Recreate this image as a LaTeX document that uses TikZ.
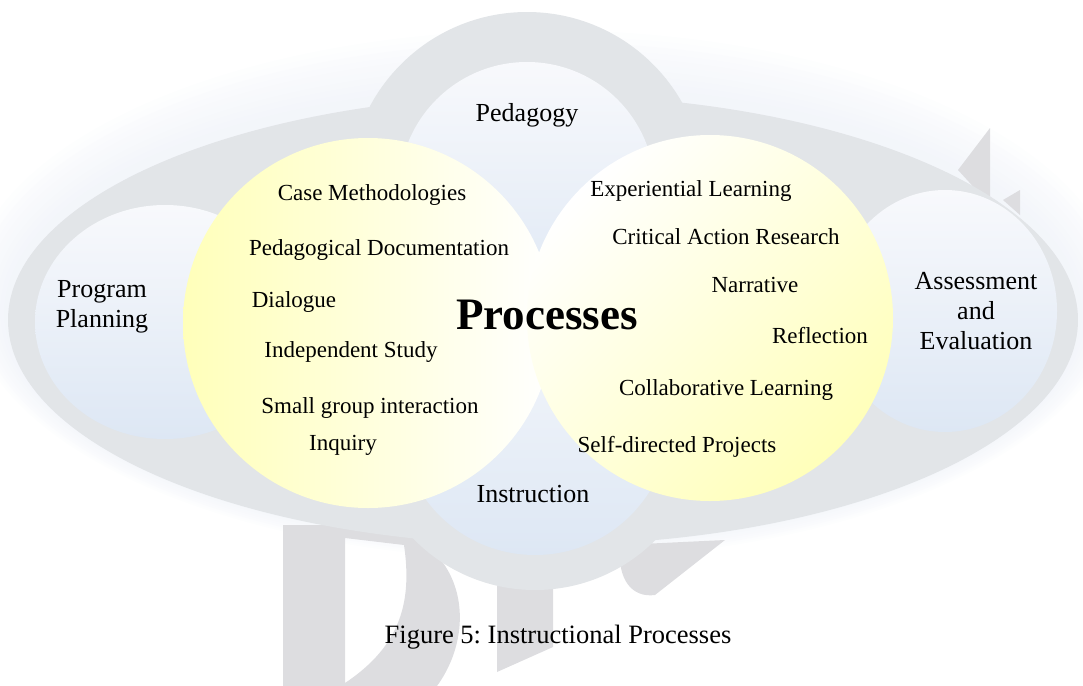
\documentclass[tikz,border=0pt]{standalone}
\usepackage{fontspec}
\setmainfont{Liberation Serif}
\usetikzlibrary{positioning}
\frenchspacing

\definecolor{bandgrey}{RGB}{226,229,232}
\definecolor{bandbeige}{RGB}{238,236,226}
\definecolor{ringtop}{RGB}{248,249,252}
\definecolor{ringbot}{RGB}{221,231,244}
\definecolor{procyellow}{RGB}{255,255,186}
\definecolor{wmark}{RGB}{221,221,224}
\definecolor{glow}{RGB}{232,237,246}

\tikzset{
  item/.style={font=\fontsize{23}{27}\selectfont, inner sep=0pt},
  area/.style={font=\fontsize{26}{30}\selectfont, align=center, inner sep=0pt},
  ring/.style={top color=ringtop, bottom color=ringbot},
}

\begin{document}
\begin{tikzpicture}[x=1pt,y=-1pt]
\useasboundingbox (0,0) rectangle (1083,685);

% soft glow round the band
\foreach \d in {4,8,...,40}
  \fill[glow,opacity=0.07] (543,{315-\d/2}) ellipse ({535pt+\d pt} and {225pt+\d pt});

% watermark letters behind the figure
\fill[wmark] (283,525) rectangle (345,690);
\fill[wmark,even odd rule] (345,525) -- (400,530) .. controls (475,560) and (475,650) .. (425,700) -- (345,700) -- cycle
  (345,538) -- (404,545) .. controls (412,600) and (402,645) .. (345,683) -- cycle;
\fill[wmark] (497,535) -- (553,535) -- (553,647) -- (497,672) -- cycle;
\fill[wmark] (620,545) .. controls (617,580) and (632,598) .. (655,595) -- (725,540) -- cycle;
\fill[wmark] (958,170) -- (990,128) -- (990,205) -- cycle;
\fill[wmark] (1003,200) -- (1020,190) -- (1020,215) -- cycle;

% grey band
\shade[left color=bandgrey, middle color=bandbeige, right color=bandgrey]
  (543,320) ellipse (535pt and 225pt)
  (527,190) circle (178pt)
  (535,420) circle (170pt);

% the four light circles
\shade[ring] (527,190) circle (128pt);
\shade[ring] (535,420) circle (135pt);
\shade[ring] (165,322) ellipse (130pt and 117pt);
\shade[ring] (945,311) ellipse (112pt and 121pt);

% the two process circles
\shade[left color=procyellow, right color=white] (368,323) circle (185pt);
\shade[top color=white, bottom color=procyellow, shading angle=45] (710,318) circle (183pt);

% labels of the outer circles
\node[area] (pedagogy) at (527,115) {Pedagogy};
\node[area] (planning) at (102,307) {Program\\Planning};
\node[area] (assess) at (976,311) {Assessment\\and\\Evaluation};
\node[area] (instruction) at (533,494) {Instruction};

\node[font=\fontsize{45}{50}\bfseries\selectfont, inner sep=0pt] (processes) at (547,315) {Processes};

% left circle
\node[item] (case) at (372,195) {Case Methodologies};
\node[item] (doc) at (379,250) {Pedagogical Documentation};
\node[item] (dialogue) at (294,302) {Dialogue};
\node[item] (indep) at (351,352) {Independent Study};
\node[item] (small) at (370,408) {Small group interaction};
\node[item] (inquiry) at (343,445) {Inquiry};

% right circle
\node[item] (exper) at (691,191) {Experiential Learning};
\node[item] (critical) at (726,237) {Critical Action Research};
\node[item] (narrative) at (755,285) {Narrative};
\node[item] (reflect) at (820,336) {Reflection};
\node[item] (collab) at (726,390) {Collaborative Learning};
\node[item] (self) at (677,447) {Self-directed Projects};

\node[font=\fontsize{26.5}{30}\selectfont, inner sep=0pt] (caption) at (558,637) {Figure 5: Instructional Processes};
\end{tikzpicture}
\end{document}
